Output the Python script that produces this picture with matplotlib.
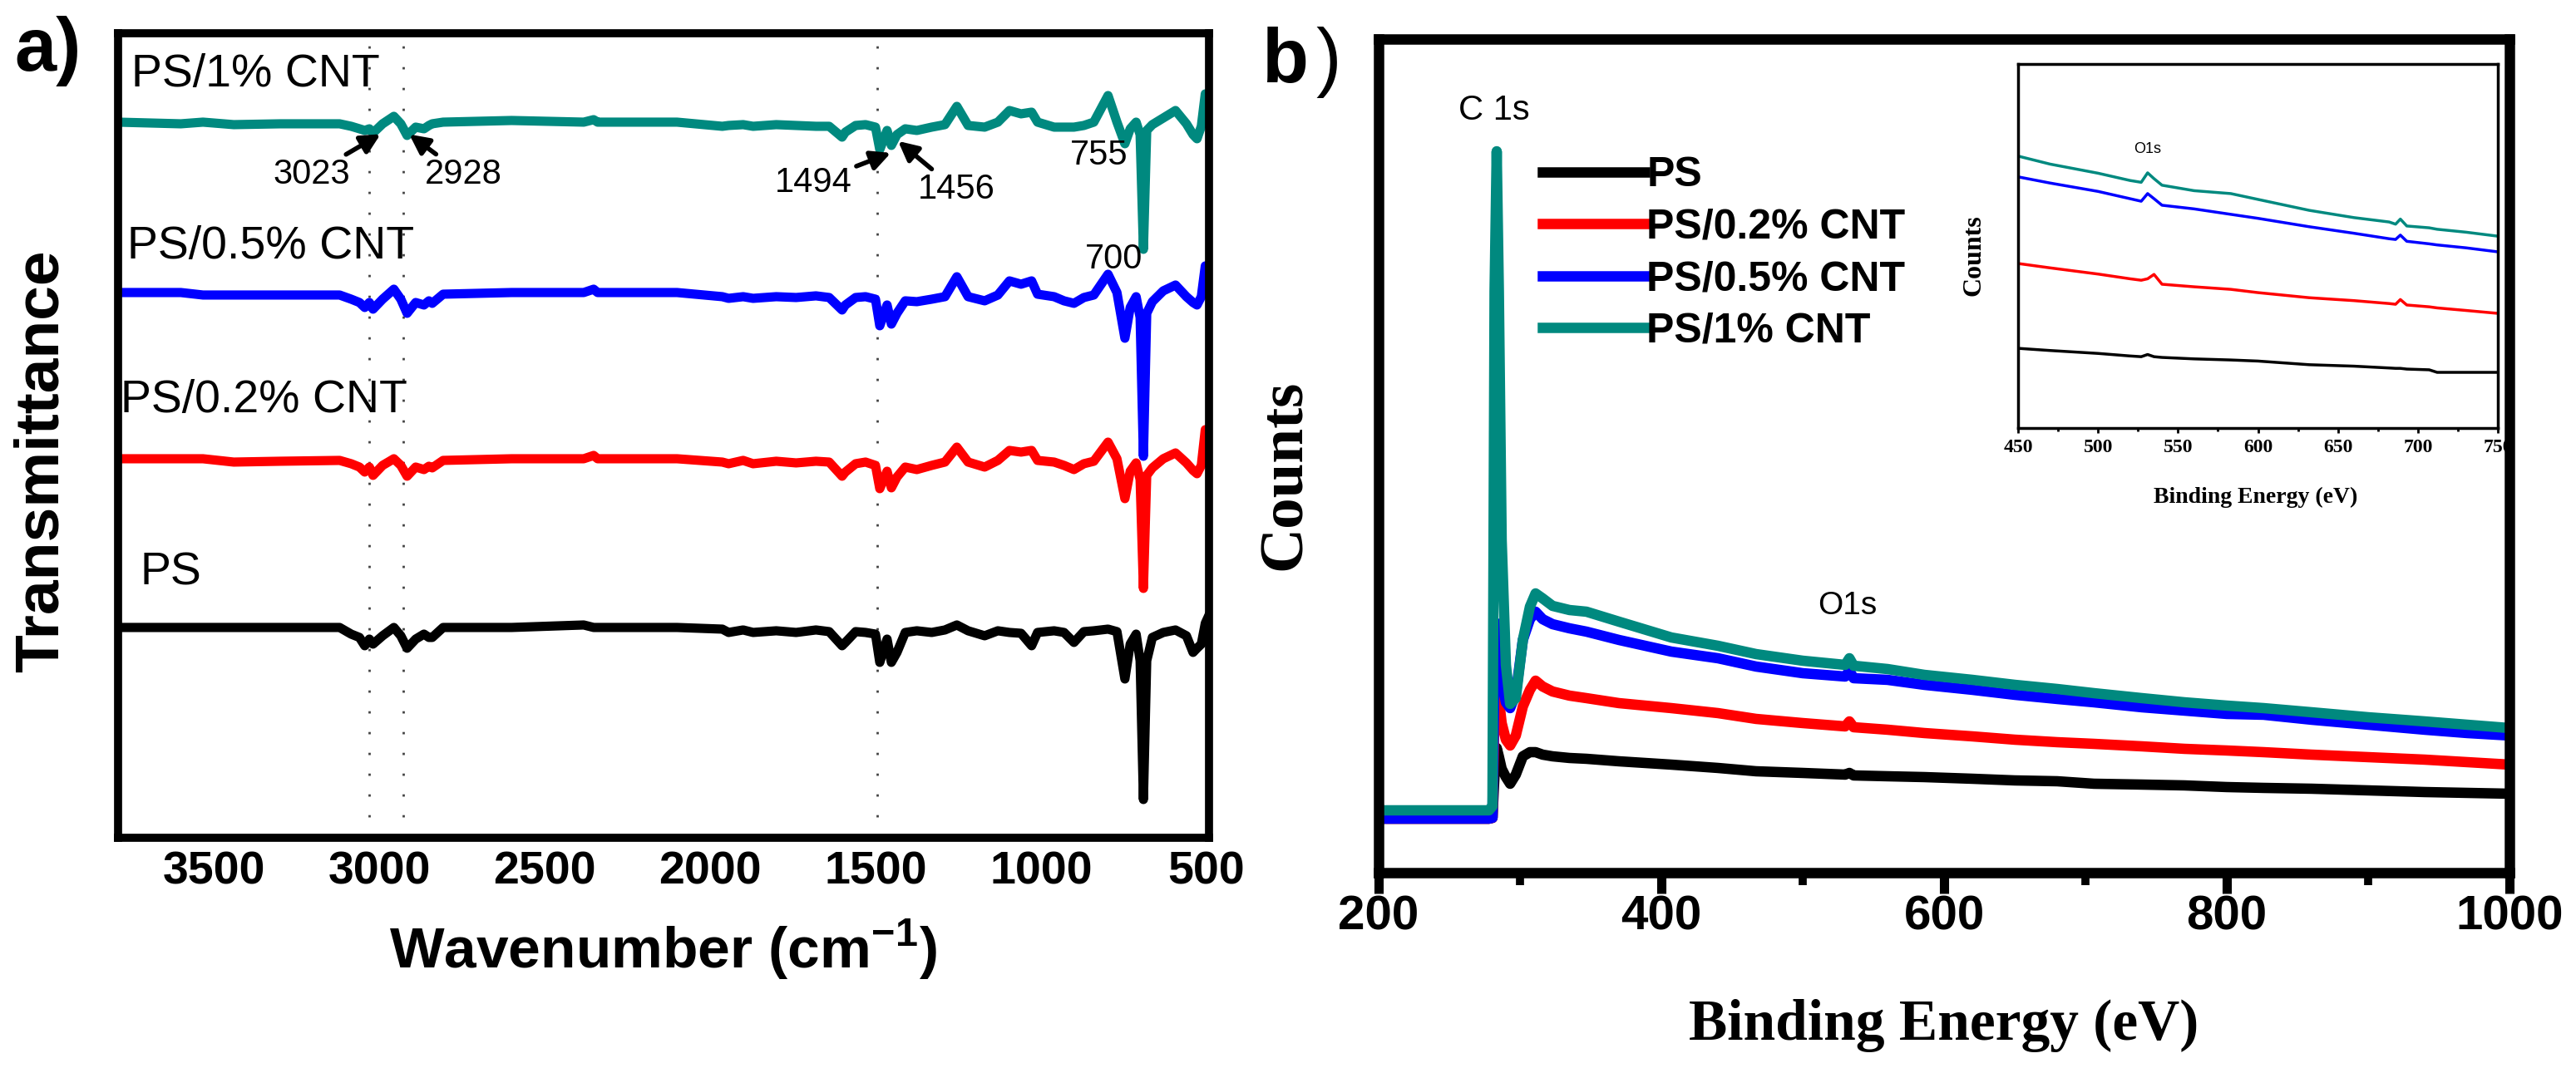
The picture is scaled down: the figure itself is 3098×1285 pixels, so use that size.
import matplotlib.pyplot as plt
from matplotlib.ticker import MultipleLocator

plt.rcParams['font.family'] = ['Liberation Sans', 'DejaVu Sans']
plt.rcParams['mathtext.fontset'] = 'custom'
plt.rcParams['mathtext.rm'] = 'Liberation Sans'
plt.rcParams['mathtext.bf'] = 'Liberation Sans:bold'
SERIF = ['Liberation Serif', 'DejaVu Serif']

TEAL = '#00897f'
colors = ['black', 'red', 'blue', TEAL]
labels = ['PS', 'PS/0.2% CNT', 'PS/0.5% CNT', 'PS/1% CNT']

# ---- a) FTIR, stacked traces (transmittance, a.u.)
wavenumber = [3790, 3600, 3533, 3440, 3300, 3120, 3085, 3060, 3044, 3030,
              3019, 2990, 2956, 2935, 2916, 2890, 2865, 2850, 2840, 2807,
              2600, 2382, 2352, 2340, 2100, 1963, 1944, 1900, 1870, 1800,
              1740, 1680, 1640, 1601, 1591, 1560, 1530, 1500, 1487, 1465,
              1452, 1435, 1410, 1375, 1330, 1290, 1254, 1220, 1170, 1130,
              1095, 1060, 1028, 1010, 960, 930, 900, 870, 840, 797,
              770, 746, 730, 712, 700, 690, 680, 663, 630, 593,
              560, 540, 528, 515, 503, 495]
ir_ps = [253, 253, 253, 253, 253, 253, 245, 241, 231, 239,
         233, 243, 253, 243, 228, 239, 245, 241, 241, 253,
         253, 256, 253, 253, 253, 251, 247, 250, 247, 249,
         247, 250, 248, 231, 235, 248, 247, 245, 211, 239,
         211, 223, 247, 249, 247, 250, 256, 249, 243, 249,
         247, 246, 231, 247, 249, 247, 235, 248, 249, 251,
         248, 191, 233, 245, 213, 46, 213, 241, 247, 250,
         243, 223, 228, 233, 258, 265]
ir_02 = [456, 456, 456, 452, 453, 454, 450, 446, 440, 446,
         436, 448, 456, 448, 435, 446, 443, 447, 445, 454,
         456, 456, 460, 456, 456, 452, 450, 454, 450, 453,
         451, 453, 452, 435, 440, 450, 452, 448, 420, 441,
         421, 434, 446, 443, 448, 452, 470, 452, 446, 454,
         466, 464, 466, 454, 452, 448, 443, 450, 453, 476,
         456, 408, 441, 451, 431, 300, 436, 445, 456, 463,
         451, 442, 438, 448, 491, 476]
ir_05 = [656, 656, 653, 653, 653, 653, 648, 644, 638, 644,
         636, 648, 660, 648, 631, 644, 641, 646, 643, 654,
         656, 656, 660, 656, 656, 651, 649, 651, 649, 651,
         650, 652, 650, 635, 641, 650, 651, 648, 616, 641,
         618, 631, 646, 645, 648, 651, 675, 651, 646, 653,
         670, 666, 670, 654, 651, 646, 643, 650, 653, 678,
         656, 601, 638, 651, 626, 459, 631, 645, 658, 665,
         651, 644, 641, 651, 688, 676]
ir_1 = [861, 859, 861, 858, 859, 859, 856, 853, 851, 853,
        848, 859, 868, 859, 845, 855, 853, 857, 859, 861,
        863, 861, 864, 861, 861, 856, 857, 858, 856, 858,
        857, 856, 856, 843, 849, 857, 858, 855, 828, 851,
        833, 846, 853, 851, 855, 858, 880, 857, 855, 861,
        875, 871, 873, 861, 855, 855, 855, 857, 861, 893,
        861, 835, 853, 861, 846, 708, 851, 858, 866, 875,
        859, 846, 841, 856, 895, 881]
ir_ticks = [3500, 3000, 2500, 2000, 1500, 1000, 500]
marker_lines = [3030, 2928, 1494]

# ---- b) XPS survey (counts, a.u.)
binding = [200, 278, 280.5, 282, 283.5, 285, 287, 290, 293, 297,
           302, 307, 311, 316, 323, 335, 347, 370, 407, 440,
           467, 500, 530, 533, 536, 560, 586, 620, 650, 680,
           706, 740, 770, 800, 826, 860, 900, 940, 970, 1000]
xps_ps = [65, 65, 66, 120, 150, 140, 125, 115, 107, 118,
          140, 145, 145, 142, 140, 138, 137, 134, 130, 126,
          122, 120, 118, 120, 117, 116, 115, 113, 111, 110,
          107, 106, 105, 103, 102, 101, 99, 97, 96, 95]
xps_02 = [65, 65, 66, 200, 240, 210, 180, 160, 153, 165,
          200, 220, 231, 224, 218, 213, 210, 204, 198, 192,
          185, 180, 176, 182, 175, 172, 168, 164, 160, 157,
          155, 152, 149, 147, 145, 142, 139, 136, 133, 130]
xps_05 = [65, 65, 66, 250, 300, 260, 230, 205, 198, 215,
          280, 305, 314, 305, 299, 294, 290, 280, 266, 258,
          248, 240, 236, 243, 234, 232, 226, 220, 214, 209,
          205, 199, 195, 191, 190, 184, 178, 172, 168, 165]
xps_1 = [75, 75, 80, 700, 868, 700, 400, 250, 203, 210,
         280, 320, 336, 330, 321, 316, 314, 302, 283, 273,
         263, 255, 250, 258, 249, 245, 238, 232, 226, 221,
         216, 210, 205, 201, 198, 193, 187, 182, 178, 174]

# ---- inset, 450-750 eV
inset_be = [450, 470, 500, 520, 527, 531, 535, 540, 560, 583,
            600, 632, 660, 682, 686, 689, 693, 707, 712, 730, 750]
inset_ps = [21.9, 21.3, 20.5, 19.8, 19.6, 20.2, 19.6, 19.4, 19.0, 18.7,
            18.4, 17.4, 17.0, 16.5, 16.4, 16.4, 16.2, 16.0, 15.3, 15.3, 15.3]
inset_02 = [45.2, 44.0, 42.3, 41.0, 40.6, 41.0, 42.2, 39.5, 38.8, 38.1,
            37.2, 35.8, 35.0, 34.2, 34.0, 35.3, 33.8, 33.3, 33.0, 32.3, 31.5]
inset_05 = [69.0, 67.3, 65.0, 63.0, 62.3, 64.4, 63.0, 61.2, 60.2, 58.7,
            57.6, 55.3, 53.5, 52.0, 51.8, 53.0, 51.3, 50.6, 50.3, 49.5, 48.4]
inset_1 = [74.7, 72.5, 70.0, 68.0, 67.5, 70.1, 68.5, 66.7, 65.2, 64.4,
           62.8, 59.8, 57.8, 56.6, 56.0, 57.4, 55.5, 55.0, 54.6, 53.8, 52.7]

fig = plt.figure(figsize=(30.98, 12.85), dpi=100)

# ---------------- panel a
axa = fig.add_axes([0.0458, 0.2156, 0.4235, 0.7533])
for w in marker_lines:
    axa.axvline(w, color='#444444', lw=2, ls=(0, (1, 8)), zorder=1)
for y, c in zip([ir_ps, ir_02, ir_05, ir_1], colors):
    axa.plot(wavenumber, y, color=c, lw=8, zorder=2)
axa.set_xlim(3790, 492)
axa.set_ylim(0, 968)
axa.set_yticks([])
axa.set_xticks(ir_ticks)
axa.tick_params(axis='x', length=0, pad=11, labelsize=40)
for t in axa.get_xticklabels():
    t.set_fontweight('bold')
for s in axa.spines.values():
    s.set_linewidth(7)

trace_text = [(3724, 318, 'PS'), (3781, 526, 'PS/0.2% CNT'),
              (3761, 711, 'PS/0.5% CNT'), (3749, 918, 'PS/1% CNT')]
for x, y, s in trace_text:
    axa.text(x, y, s, fontsize=40, ha='left', va='center')

arrow = dict(arrowstyle='-|>', lw=4, color='black', mutation_scale=35)
axa.annotate('3023', xy=(2990, 848), xytext=(3204, 798), fontsize=30,
             ha='center', va='center', arrowprops=arrow)
axa.annotate('2928', xy=(2915, 848), xytext=(2746, 798), fontsize=30,
             ha='center', va='center', arrowprops=arrow)
axa.annotate('1494', xy=(1447, 825), xytext=(1688, 788), fontsize=30,
             ha='center', va='center', arrowprops=arrow)
axa.annotate('1456', xy=(1437, 840), xytext=(1256, 780), fontsize=30,
             ha='center', va='center', arrowprops=arrow)
axa.text(824, 821, '755', fontsize=30, ha='center', va='center')
axa.text(779, 696, '700', fontsize=30, ha='center', va='center')

axa.set_xlabel(r'Wavenumber (cm$^{\mathbf{-1}}$)', fontsize=50,
               fontweight='bold', labelpad=20)
fig.text(0.0161, 0.568, 'Transmittance', rotation=90, fontsize=54,
         fontweight='bold', ha='center', va='center')
fig.text(0.0187, 0.9518, 'a)', fontsize=65, fontweight='bold',
         ha='center', va='center')

# ---------------- panel b
axb = fig.add_axes([0.5352, 0.1829, 0.4390, 0.7805])
lines = []
for y, c in zip([xps_ps, xps_02, xps_05, xps_1], colors):
    ln, = axb.plot(binding, y, color=c, lw=9)
    lines.append(ln)
axb.set_xlim(200, 1000)
axb.set_ylim(0, 1003)
axb.set_yticks([])
axb.xaxis.set_major_locator(MultipleLocator(200))
axb.xaxis.set_minor_locator(MultipleLocator(100))
axb.tick_params(axis='x', which='major', direction='out', length=18,
                width=8, pad=1, labelsize=42)
axb.tick_params(axis='x', which='minor', direction='out', length=11, width=7)
for t in axb.get_xticklabels():
    t.set_fontweight('bold')
for s in axb.spines.values():
    s.set_linewidth(9)

axb.legend(lines, labels, loc='upper left', bbox_to_anchor=(0.145, 0.859),
           frameon=False, prop={'size': 36, 'weight': 'bold'},
           handlelength=2.45, handletextpad=0.05, labelspacing=0.33,
           borderpad=0, borderaxespad=0)
axb.text(281.8, 917, 'C 1s', fontsize=30, ha='center', va='center')
axb.text(531.8, 321, 'O1s', fontsize=28, ha='center', va='center')

fig.text(0.7547, 0.0397, 'Binding Energy (eV)', family=SERIF, fontsize=50,
         fontweight='bold', ha='center', va='center')
fig.text(0.499, 0.5556, 'Counts', family=SERIF, rotation=90, fontsize=54,
         fontweight='bold', ha='center', va='center')
fig.text(0.490, 0.9416, 'b', fontsize=66, fontweight='bold',
         ha='left', va='center')
fig.text(0.5107, 0.9416, ')', fontsize=66, ha='left', va='center')

# ---------------- inset
axi = fig.add_axes([0.7834, 0.5992, 0.1863, 0.3409])
for y, c in zip([inset_ps, inset_02, inset_05, inset_1], colors):
    axi.plot(inset_be, y, color=c, lw=2.5)
axi.set_xlim(450, 750)
axi.set_ylim(0, 100)
axi.set_yticks([])
axi.xaxis.set_major_locator(MultipleLocator(50))
axi.xaxis.set_minor_locator(MultipleLocator(25))
axi.tick_params(axis='x', which='major', direction='out', length=4,
                width=2, pad=5, labelsize=17)
axi.tick_params(axis='x', which='minor', direction='out', length=3, width=2)
for t in axi.get_xticklabels():
    t.set_family(SERIF)
    t.set_fontweight('bold')
for s in axi.spines.values():
    s.set_linewidth(2.5)
axi.text(531, 76.5, 'O1s', fontsize=13, ha='center', va='center')
fig.text(0.8757, 0.5346, 'Binding Energy (eV)', family=SERIF, fontsize=20,
         fontweight='bold', ha='center', va='center')
fig.text(0.7663, 0.7611, 'Counts', family=SERIF, rotation=90, fontsize=23,
         fontweight='bold', ha='center', va='center')

fig.savefig('out.png', dpi=100)
